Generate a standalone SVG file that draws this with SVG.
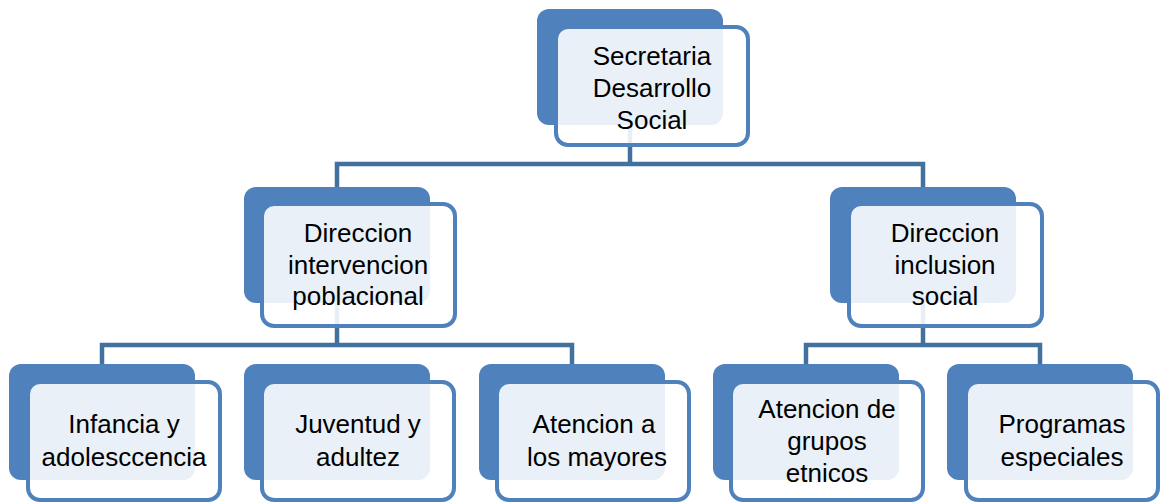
<svg xmlns="http://www.w3.org/2000/svg" width="1160" height="503" viewBox="0 0 1160 503">
<style>
.back{fill:#4F81BD}
.front{fill:#FFFFFF;fill-opacity:0.88;stroke:#4F81BD;stroke-width:4}
.conn{fill:none;stroke:#41719C;stroke-width:4.5}
text{font-family:"Liberation Sans",Arial,sans-serif;font-size:26px;fill:#000;text-anchor:middle}
</style>
<rect width="1160" height="503" fill="#FFFFFF"/>
<g id="connectors">
<path class="conn" d="M630 100 V164 M337 187 V164 H923 V187"/>
<path class="conn" d="M337 300 V345 M102 364 V345 H572 V364"/>
<path class="conn" d="M923 300 V345 M806 364 V345 H1040 V364"/>
</g>
<g id="n-secretaria">
<rect class="back" x="537" y="9" width="186" height="116" rx="12"/>
<rect class="front" x="556" y="27" width="192" height="118" rx="12"/>
<text x="652" y="65">Secretaria</text>
<text x="652" y="97">Desarrollo</text>
<text x="652" y="129">Social</text>
</g>
<g id="n-intervencion">
<rect class="back" x="244" y="187" width="186" height="116" rx="12"/>
<rect class="front" x="262" y="204" width="193" height="122" rx="12"/>
<text x="358" y="242">Direccion</text>
<text x="358" y="274">intervencion</text>
<text x="358" y="305">poblacional</text>
</g>
<g id="n-inclusion">
<rect class="back" x="830" y="187" width="186" height="116" rx="12"/>
<rect class="front" x="849" y="204" width="193" height="122" rx="12"/>
<text x="945" y="242">Direccion</text>
<text x="945" y="274">inclusion</text>
<text x="945" y="305">social</text>
</g>
<g id="n-infancia">
<rect class="back" x="9" y="364" width="186" height="116" rx="12"/>
<rect class="front" x="28" y="382" width="192" height="118" rx="12"/>
<text x="124" y="433">Infancia y</text>
<text x="124" y="466">adolesccencia</text>
</g>
<g id="n-juventud">
<rect class="back" x="244" y="364" width="186" height="116" rx="12"/>
<rect class="front" x="262" y="382" width="192" height="118" rx="12"/>
<text x="358" y="433">Juventud y</text>
<text x="358" y="466">adultez</text>
</g>
<g id="n-mayores">
<rect class="back" x="479" y="364" width="186" height="116" rx="12"/>
<rect class="front" x="497" y="382" width="192" height="118" rx="12"/>
<text x="594" y="433">Atencion a</text>
<text x="597" y="466">los mayores</text>
</g>
<g id="n-etnicos">
<rect class="back" x="713" y="364" width="186" height="116" rx="12"/>
<rect class="front" x="731" y="382" width="192" height="118" rx="12"/>
<text x="827" y="418">Atencion de</text>
<text x="827" y="450">grupos</text>
<text x="827" y="482">etnicos</text>
</g>
<g id="n-programas">
<rect class="back" x="947" y="364" width="186" height="116" rx="12"/>
<rect class="front" x="966" y="382" width="192" height="118" rx="12"/>
<text x="1062" y="433">Programas</text>
<text x="1062" y="466">especiales</text>
</g>
</svg>
